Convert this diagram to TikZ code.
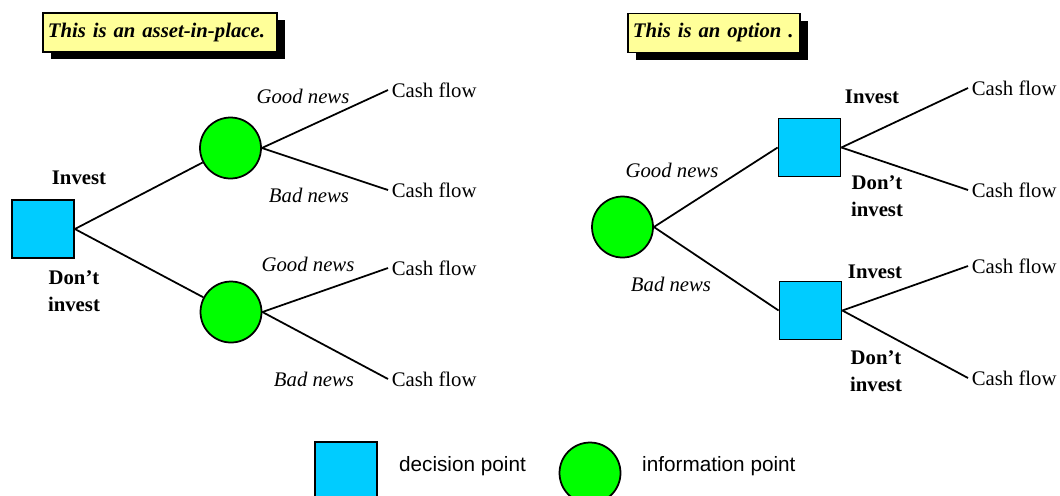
\documentclass[tikz,border=0pt]{standalone}
\usepackage{fontspec}
\setmainfont{Liberation Serif}
\setsansfont{Liberation Sans}
\usetikzlibrary{positioning,shadows}
\definecolor{boxcyan}{HTML}{00CCFF}
\definecolor{dotgreen}{HTML}{00FF00}
\definecolor{notepad}{HTML}{FFFF99}

\begin{document}
\begin{tikzpicture}[x=0.02cm,y=-0.02cm,font=\fontsize{11.8}{15.3}\selectfont,
    decision/.style={draw,line width=1pt,fill=boxcyan,minimum width=1.24cm,minimum height=1.16cm,inner sep=0pt},
    info/.style={draw,line width=1pt,fill=dotgreen,circle,minimum size=1.22cm,inner sep=0pt},
    note/.style={draw,line width=1pt,fill=notepad,font=\fontsize{11.8}{14}\selectfont\bfseries\itshape,
      inner xsep=0.1cm,minimum height=0.78cm,align=left,
      drop shadow={shadow xshift=0.16cm,shadow yshift=-0.14cm,opacity=1,fill=black}},
    cash/.style={anchor=west,inner sep=2pt},
    news/.style={font=\fontsize{11.8}{15.3}\selectfont\itshape},
    choice/.style={font=\fontsize{11.8}{15.3}\selectfont\bfseries,align=center},
    branch/.style={line width=1pt}]
        \clip (0,0) rectangle (1060,495);
        % titles
        \node[note,anchor=west,text width=4.48cm] (t1) at (42,32.5) {This is an asset-in-place.};
        \node[note,anchor=west,text width=3.24cm] (t2) at (627,33) {This is an option .};
        % asset-in-place tree
        \node[decision] (d0) at (43,229) {};
        \node[info] (i1) at (230.5,148) {};
        \node[info] (i2) at (231,312) {};
        \node[cash] (c1) at (388,90) {Cash flow};
        \node[cash] (c2) at (388,190) {Cash flow};
        \node[cash] (c3) at (388,268) {Cash flow};
        \node[cash] (c4) at (388,379) {Cash flow};
        \draw[branch] (d0.east) -- (i1);
        \draw[branch] (d0.east) -- (i2);
        \draw[branch] (i1.east) -- (c1.west);
        \draw[branch] (i1.east) -- (c2.west);
        \draw[branch] (i2.east) -- (c3.west);
        \draw[branch] (i2.east) -- (c4.west);
        \node[choice] (a1) at (79,178) {Invest};
        \node[choice] (a2) at (74,291) {Don’t\\invest};
        \node[news] (n1) at (303,96) {Good news};
        \node[news] (n2) at (309,195) {Bad news};
        \node[news] (n3) at (308,264) {Good news};
        \node[news] (n4) at (314,379) {Bad news};
        % option tree
        \node[info] (i0) at (622.5,227) {};
        \node[decision] (d1) at (809.5,147.5) {};
        \node[decision] (d2) at (810.5,310.5) {};
        \node[cash] (c5) at (968,88) {Cash flow};
        \node[cash] (c6) at (968,190) {Cash flow};
        \node[cash] (c7) at (968,266) {Cash flow};
        \node[cash] (c8) at (968,378) {Cash flow};
        \draw[branch] (i0.east) -- (d1.west);
        \draw[branch] (i0.east) -- (d2.west);
        \draw[branch] (d1.east) -- (c5.west);
        \draw[branch] (d1.east) -- (c6.west);
        \draw[branch] (d2.east) -- (c7.west);
        \draw[branch] (d2.east) -- (c8.west);
        \node[news] (n5) at (672,170) {Good news};
        \node[news] (n6) at (671,284) {Bad news};
        \node[choice] (a3) at (872,97) {Invest};
        \node[choice] (a4) at (877,196) {Don’t\\invest};
        \node[choice] (a5) at (875,272) {Invest};
        \node[choice] (a6) at (876,371) {Don’t\\invest};
        % legend
        \node[decision] (k1) at (346,471) {};
        \node[font=\fontsize{11.8}{14}\selectfont\sffamily,right=0.3cm of k1.east,anchor=west,yshift=0.1cm] (k1t) {decision point};
        \node[info] (k2) at (590,473) {};
        \node[font=\fontsize{11.8}{14}\selectfont\sffamily,anchor=west] (k2t) at (636,466) {information point};
\end{tikzpicture}
\end{document}
